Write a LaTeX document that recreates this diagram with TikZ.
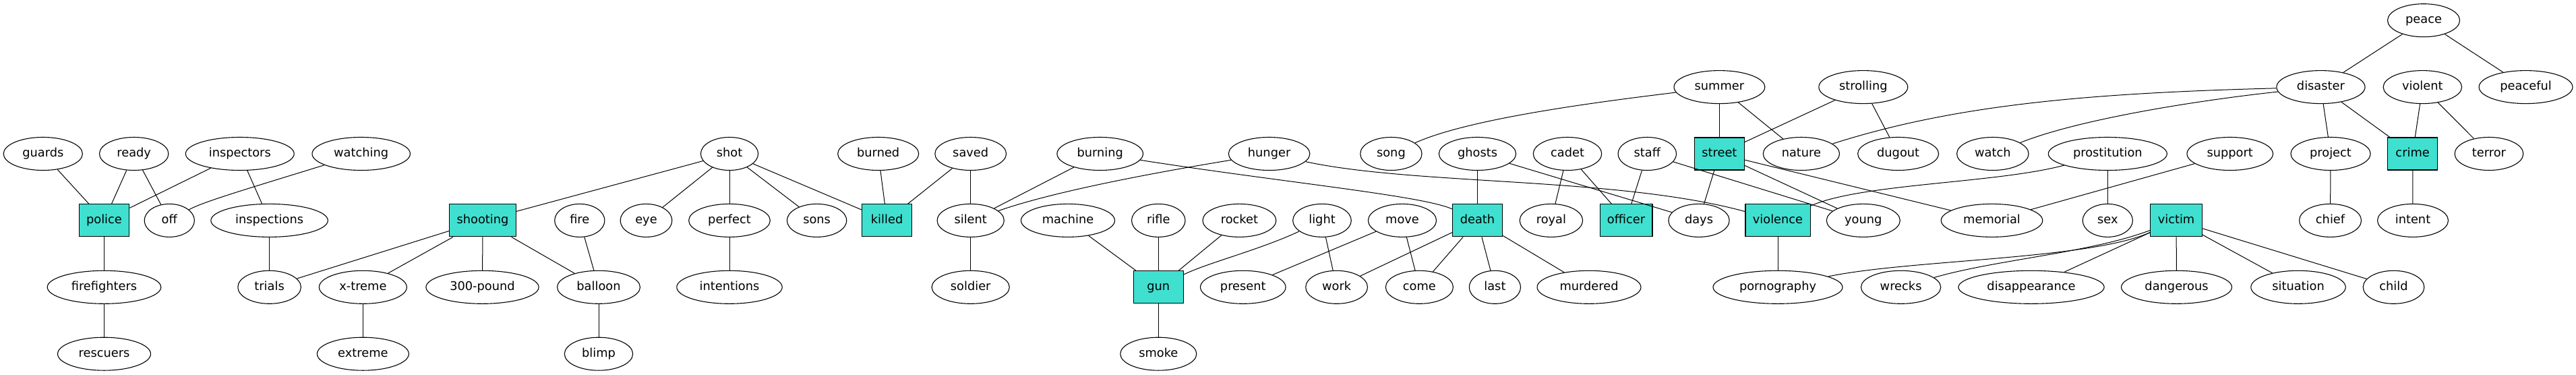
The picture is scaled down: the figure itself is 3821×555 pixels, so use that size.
\documentclass[tikz,border=0pt]{standalone}
\usepackage{fontspec}
\setmainfont{DejaVu Sans}
\usetikzlibrary{shapes.geometric}
\definecolor{turq}{HTML}{40E0D0}
\begin{document}
\begin{tikzpicture}[x=1pt,y=-1pt,
  base/.style={draw=black, line width=1.1pt, inner xsep=10.9pt, inner ysep=5.4pt,
    minimum width=74.2pt, minimum height=49pt, text height=13pt, text depth=4pt,
    font=\fontsize{17.8}{21}\selectfont},
  ell/.style={base, ellipse},
  bx/.style={base, rectangle, fill=turq, minimum height=48pt},
  ed/.style={line width=1pt}]
\useasboundingbox (0,0) rectangle (3821,555);
% row 0
\node[ell] (peace) at (3595,30.2) {peace};
% row 1
\node[ell] (summer) at (2550.4,129.1) {summer};
\node[ell] (strolling) at (2763.8,129.1) {strolling};
\node[ell] (disaster) at (3442.4,129.1) {disaster};
\node[ell] (violent) at (3593.3,129.1) {violent};
\node[ell] (peaceful) at (3746.5,129.1) {peaceful};
% row 2
\node[ell] (guards) at (63.8,228) {guards};
\node[ell] (ready) at (198.7,228) {ready};
\node[ell] (inspectors) at (355.8,228) {inspectors};
\node[ell] (watching) at (535.7,228) {watching};
\node[ell] (shot) at (1082,228) {shot};
\node[ell] (burned) at (1302.7,228) {burned};
\node[ell] (saved) at (1439.7,228) {saved};
\node[ell] (burning) at (1631.7,228) {burning};
\node[ell] (hunger) at (1882.6,228) {hunger};
\node[ell] (song) at (2063.4,228) {song};
\node[ell] (ghosts) at (2191.5,228) {ghosts};
\node[ell] (cadet) at (2325,228) {cadet};
\node[ell] (staff) at (2443.3,228) {staff};
\node[bx] (street) at (2550.4,228) {street};
\node[ell] (nature) at (2671.9,228) {nature};
\node[ell] (dugout) at (2815.6,228) {dugout};
\node[ell] (watch) at (2955.8,228) {watch};
\node[ell] (prostitution) at (3126.3,228) {prostitution};
\node[ell] (support) at (3307.7,228) {support};
\node[ell] (project) at (3457,228) {project};
\node[bx] (crime) at (3578.6,228) {crime};
\node[ell] (terror) at (3691.9,228) {terror};
% row 3
\node[bx] (police) at (154.5,326.9) {police};
\node[ell] (off) at (251.3,326.9) {off};
\node[ell] (inspections) at (399.6,326.9) {inspections};
\node[bx] (shooting) at (716,326.9) {shooting};
\node[ell] (fire) at (859.8,326.9) {fire};
\node[ell] (eye) at (958.5,326.9) {eye};
\node[ell] (perfect) at (1082,326.9) {perfect};
\node[ell] (sons) at (1211.6,326.9) {sons};
\node[bx] (killed) at (1315.6,326.9) {killed};
\node[ell] (silent) at (1439.7,326.9) {silent};
\node[ell] (machine) at (1584,326.9) {machine};
\node[ell] (rifle) at (1718.3,326.9) {rifle};
\node[ell] (rocket) at (1838.4,326.9) {rocket};
\node[ell] (light) at (1961,326.9) {light};
\node[ell] (move) at (2080,326.9) {move};
\node[bx] (death) at (2191.5,326.9) {death};
\node[ell] (royal) at (2300.9,326.9) {royal};
\node[bx] (officer) at (2412,326.9) {officer};
\node[ell] (days) at (2520,326.9) {days};
\node[bx] (violence) at (2637,326.9) {violence};
\node[ell] (young) at (2763.8,326.9) {young};
\node[ell] (memorial) at (2954.5,326.9) {memorial};
\node[ell] (sex) at (3126.3,326.9) {sex};
\node[bx] (victim) at (3228,326.9) {victim};
\node[ell] (chief) at (3456.5,326.9) {chief};
\node[ell] (intent) at (3579,326.9) {intent};
% row 4
\node[ell] (firefighters) at (154.5,425.8) {firefighters};
\node[ell] (trials) at (399.6,425.8) {trials};
\node[ell] (xtreme) at (538.4,425.8) {x-treme};
\node[ell] (pound) at (715.5,425.8) {300-pound};
\node[ell] (balloon) at (888,425.8) {balloon};
\node[ell] (intentions) at (1082,425.8) {intentions};
\node[ell] (soldier) at (1439.7,425.8) {soldier};
\node[bx] (gun) at (1718.3,425.8) {gun};
\node[ell] (present) at (1843.8,425.8) {present};
\node[ell] (work) at (1982.6,425.8) {work};
\node[ell] (come) at (2105.4,425.8) {come};
\node[ell] (last) at (2217.4,425.8) {last};
\node[ell] (murdered) at (2357,425.8) {murdered};
\node[ell] (pornography) at (2637,425.8) {pornography};
\node[ell] (wrecks) at (2819.6,425.8) {wrecks};
\node[ell] (disappearance) at (3013,425.8) {disappearance};
\node[ell] (dangerous) at (3228.5,425.8) {dangerous};
\node[ell] (situation) at (3409,425.8) {situation};
\node[ell] (child) at (3550.5,425.8) {child};
% row 5
\node[ell] (rescuers) at (154.5,524.7) {rescuers};
\node[ell] (extreme) at (538.4,524.7) {extreme};
\node[ell] (blimp) at (888,524.7) {blimp};
\node[ell] (smoke) at (1718.3,524.7) {smoke};
% edges
\draw[ed] (guards) -- (police);
\draw[ed] (ready) -- (police);
\draw[ed] (ready) -- (off);
\draw[ed] (inspectors) -- (police);
\draw[ed] (inspectors) -- (inspections);
\draw[ed] (watching) .. controls (350,285) and (300,300) .. (off);
\draw[ed] (police) -- (firefighters);
\draw[ed] (firefighters) -- (rescuers);
\draw[ed] (inspections) -- (trials);
\draw[ed] (shooting) -- (trials);
\draw[ed] (shooting) -- (xtreme);
\draw[ed] (shooting) -- (pound);
\draw[ed] (shooting) -- (balloon);
\draw[ed] (shot) -- (shooting);
\draw[ed] (xtreme) -- (extreme);
\draw[ed] (fire) -- (balloon);
\draw[ed] (balloon) -- (blimp);
\draw[ed] (shot) -- (eye);
\draw[ed] (shot) -- (perfect);
\draw[ed] (shot) -- (sons);
\draw[ed] (shot) -- (killed);
\draw[ed] (perfect) -- (intentions);
\draw[ed] (burned) -- (killed);
\draw[ed] (saved) -- (killed);
\draw[ed] (saved) -- (silent);
\draw[ed] (burning) -- (silent);
\draw[ed] (hunger) .. controls (1700,258) and (1560,285) .. (silent);
\draw[ed] (silent) -- (soldier);
\draw[ed] (burning) .. controls (1900,270) and (2110,290) .. (death);
\draw[ed] (hunger) .. controls (2100,275) and (2400,262) .. (violence);
\draw[ed] (machine) -- (gun);
\draw[ed] (rifle) -- (gun);
\draw[ed] (rocket) -- (gun);
\draw[ed] (light) .. controls (1870,370) and (1790,390) .. (gun);
\draw[ed] (light) -- (work);
\draw[ed] (move) -- (present);
\draw[ed] (move) -- (come);
\draw[ed] (gun) -- (smoke);
\draw[ed] (ghosts) -- (death);
\draw[ed] (death) -- (work);
\draw[ed] (death) -- (come);
\draw[ed] (death) -- (last);
\draw[ed] (death) -- (murdered);
\draw[ed] (summer) .. controls (2380,150) and (2180,175) .. (song);
\draw[ed] (summer) -- (street);
\draw[ed] (summer) -- (nature);
\draw[ed] (strolling) -- (street);
\draw[ed] (strolling) -- (dugout);
\draw[ed] (cadet) -- (royal);
\draw[ed] (cadet) -- (officer);
\draw[ed] (staff) -- (officer);
\draw[ed] (ghosts) -- (days);
\draw[ed] (staff) -- (young);
\draw[ed] (street) -- (days);
\draw[ed] (street) -- (young);
\draw[ed] (street) -- (memorial);
\draw[ed] (disaster) .. controls (3100,138) and (2900,155) .. (nature);
\draw[ed] (disaster) .. controls (3250,150) and (3080,178) .. (watch);
\draw[ed] (disaster) -- (project);
\draw[ed] (disaster) -- (crime);
\draw[ed] (peace) -- (disaster);
\draw[ed] (peace) -- (peaceful);
\draw[ed] (violent) -- (crime);
\draw[ed] (violent) -- (terror);
\draw[ed] (crime) -- (intent);
\draw[ed] (project) -- (chief);
\draw[ed] (prostitution) .. controls (2960,272) and (2760,272) .. (violence);
\draw[ed] (prostitution) -- (sex);
\draw[ed] (support) -- (memorial);
\draw[ed] (violence) -- (pornography);
\draw[ed] (victim) .. controls (3100,385) and (2830,385) .. (pornography);
\draw[ed] (victim) .. controls (3100,375) and (2960,385) .. (wrecks);
\draw[ed] (victim) -- (disappearance);
\draw[ed] (victim) -- (dangerous);
\draw[ed] (victim) -- (situation);
\draw[ed] (victim) -- (child);
\end{tikzpicture}
\end{document}
